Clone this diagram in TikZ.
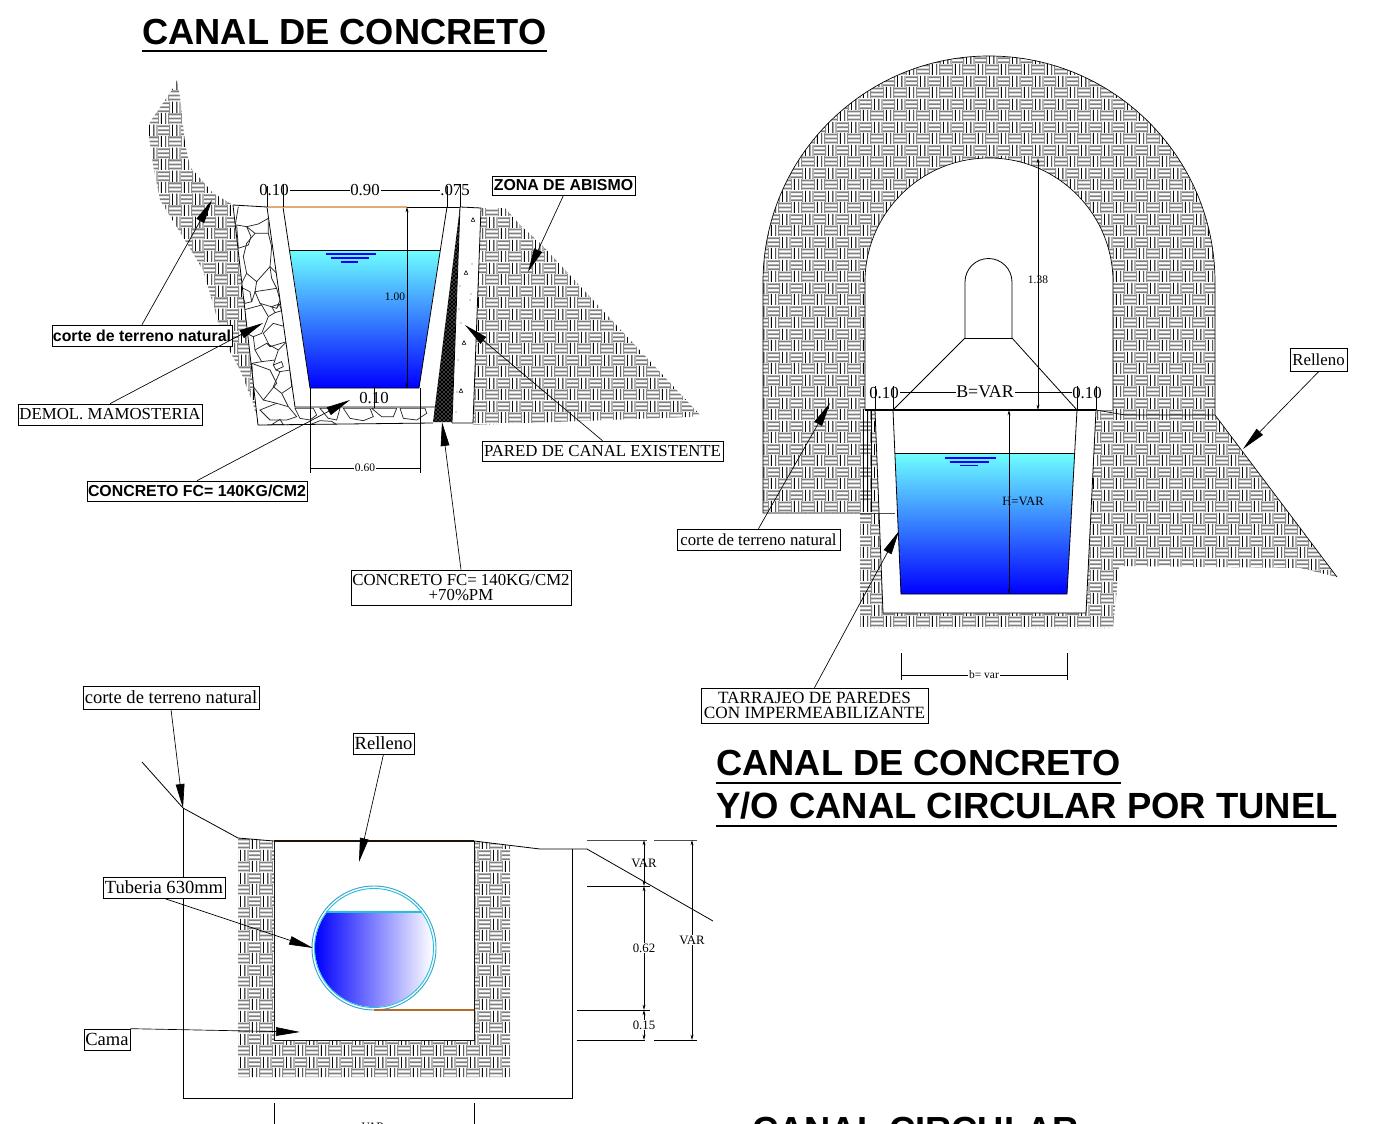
\documentclass[tikz,border=0pt]{standalone}
\usepackage{fontspec}
\setmainfont{Liberation Serif}
\newfontfamily\arialfont{Liberation Sans}
\usetikzlibrary{arrows.meta,patterns,calc}
\definecolor{watertop}{RGB}{110,255,255}
\definecolor{watermid}{RGB}{50,110,255}
\definecolor{pipeblue}{RGB}{50,165,205}
\definecolor{tanline}{RGB}{225,170,120}
\definecolor{brownline}{RGB}{185,105,40}
\pgfdeclarepatterninherentlycolored{weave}{\pgfpointorigin}{\pgfqpoint{16.95pt}{16.95pt}}{\pgfqpoint{16.95pt}{16.95pt}}{%
  \pgfsetlinewidth{0.7pt}\pgfsetstrokecolor{black}%
  \foreach \o in {2.6,5.9}{%
    \pgfpathmoveto{\pgfqpoint{\o pt}{0pt}}\pgfpathlineto{\pgfqpoint{\o pt}{8.475pt}}%
    \pgfpathmoveto{\pgfpointadd{\pgfqpoint{8.475pt}{8.475pt}}{\pgfqpoint{\o pt}{0pt}}}\pgfpathlineto{\pgfpointadd{\pgfqpoint{8.475pt}{8.475pt}}{\pgfqpoint{\o pt}{8.475pt}}}%
  }\pgfusepath{stroke}%
  \pgfsetstrokecolor{black!45}%
  \foreach \o in {0.35,8.1}{%
    \pgfpathmoveto{\pgfqpoint{\o pt}{0pt}}\pgfpathlineto{\pgfqpoint{\o pt}{8.475pt}}%
    \pgfpathmoveto{\pgfpointadd{\pgfqpoint{8.475pt}{8.475pt}}{\pgfqpoint{\o pt}{0pt}}}\pgfpathlineto{\pgfpointadd{\pgfqpoint{8.475pt}{8.475pt}}{\pgfqpoint{\o pt}{8.475pt}}}%
  }\pgfusepath{stroke}%
  \pgfsetlinewidth{1.4pt}\pgfsetstrokecolor{black!50}%
  \foreach \o in {1.2,4.24,7.3}{%
    \pgfpathmoveto{\pgfqpoint{8.475pt}{\o pt}}\pgfpathlineto{\pgfqpoint{16.95pt}{\o pt}}%
    \pgfpathmoveto{\pgfqpoint{0pt}{\dimexpr8.475pt+\o pt\relax}}\pgfpathlineto{\pgfqpoint{8.475pt}{\dimexpr8.475pt+\o pt\relax}}%
  }\pgfusepath{stroke}%
}
\tikzset{
  ln/.style={line width=0.6pt,black},
  thinln/.style={line width=0.5pt,black},
  hatchfill/.style={pattern=weave},
  dimarrow/.style={line width=0.5pt,{Stealth[length=4pt,width=2.2pt]}-{Stealth[length=4pt,width=2.2pt]}},
  leader/.style={line width=0.5pt,-{Triangle[length=18pt,width=6.5pt]}},
  lbl/.style={draw=black,line width=0.5pt,fill=white,inner sep=0pt,align=center,font=\fontsize{12.6}{11.5}\selectfont},
  lblk/.style={lbl,font=\fontsize{13.9}{12}\selectfont},
  lblb/.style={lbl,font=\arialfont\bfseries\fontsize{11.9}{12}\selectfont},
  dimtxt/.style={fill=white,inner sep=0.6pt,font=\fontsize{12.6}{13}\selectfont},
  smalltxt/.style={inner sep=0pt,font=\fontsize{8.6}{9}\selectfont},
  titletxt/.style={anchor=base west,inner sep=0pt,font=\arialfont\bfseries\fontsize{27.2}{30}\selectfont},
  wat/.style={top color=watertop,middle color=watermid,bottom color=blue},
  bw/.style={minimum width=#1*0.75pt},
  bh/.style={minimum height=#1*0.75pt},
}
\begin{document}
\begin{tikzpicture}[x=0.75pt,y=-0.75pt]
\useasboundingbox (0,0) rectangle (1400,1124);
\fill[white] (0,0) rectangle (1400,1124);

% ---------- titles
\node[titletxt] (t1) at (142,45) {CANAL DE CONCRETO};
\draw[line width=1.1pt] (142,51) -- (547,51);
\node[titletxt] (t2) at (716,775.5) {CANAL DE CONCRETO};
\draw[line width=1.1pt] (716,783) -- (1121,783);
\node[titletxt,font=\arialfont\bfseries\fontsize{27.33}{30}\selectfont] (t3) at (716,818.5) {Y/O CANAL CIRCULAR POR TUNEL};
\draw[line width=1.1pt] (716,826) -- (1337,826);
\node[titletxt] (t4) at (752,1142) {CANAL CIRCULAR};

% ---------- left section: terrain
\fill[hatchfill] (177,80) -- (172,90) -- (163,103) -- (150,122) -- (148,130) -- (153,165) -- (160,200) -- (183,237) -- (203,270) -- (212,300) -- (222,337) -- (240,370) -- (253,403) -- (258,425) -- (300,425) -- (233,205) -- (213,193) -- (190,167) -- (185,143) -- (180,97) -- cycle;
\fill[hatchfill] (481,208) -- (505,208) -- (520,225) -- (540,243) -- (700,415) -- (690,417) -- (473,425) -- cycle;

% masonry
\fill[white] (233,205) -- (267,207) -- (295,407) -- (435,407) -- (433,423) -- (258,425) -- cycle;
\begin{scope}[shift={(140,70)},x=0.25pt,y=-0.25pt]
\clip (280,405) -- (380,410) -- (465,1010) -- (885,1010) -- (880,1060) -- (355,1065) -- cycle;
\foreach \s in {
 {(290,465)--(320,470)--(333,500)--(325,525)--(295,535)},
 {(345,490)--(385,490)--(395,530)--(390,590)--(350,635)--(320,610)--(310,560)--(320,520)},
 {(300,650)--(330,665)--(335,695)--(315,700)},
 {(345,665)--(410,655)--(420,690)--(410,715)--(360,700)},
 {(310,720)--(365,705)--(385,740)--(365,790)--(340,800)--(320,790)},
 {(395,710)--(418,702)--(425,722)--(405,728)},
 {(370,790)--(400,760)--(435,770)--(440,815)--(390,830)},
 {(345,840)--(380,820)--(415,840)--(405,870)--(365,875)},
 {(400,885)--(425,875)--(430,890)--(408,900)},
 {(335,880)--(390,900)--(410,940)--(370,990)--(340,950)},
 {(420,905)--(450,900)--(455,950)--(425,970)--(400,950)},
 {(360,1020)--(410,1000)--(445,1010)--(470,1040)--(440,1050)--(390,1050)},
 {(465,1015)--(480,1045)--(510,1050)--(530,1035)--(520,1015)},
 {(540,1015)--(565,1045)--(590,1050)--(600,1015)},
 {(610,1015)--(630,1045)--(670,1052)--(700,1040)--(690,1015)},
 {(695,1015)--(725,1040)--(760,1040)--(770,1015)},
 {(780,1015)--(790,1045)--(830,1050)--(860,1030)--(855,1015)},
 {(395,1064)--(420,1048)--(430,1064)},
 {(510,1064)--(540,1052)--(575,1054)--(590,1064)}
}{\draw[line width=0.55pt,black!85] \s -- cycle;}
\foreach \s in {
 {(295,410)--(285,470)},{(320,470)--(345,490)},{(385,490)--(385,445)--(355,462)--(320,470)},
 {(390,590)--(410,610)},{(350,635)--(345,665)},{(320,610)--(300,650)},{(335,695)--(345,665)},
 {(410,655)--(395,625)--(390,590)},{(365,705)--(360,700)},{(385,740)--(405,728)},{(418,702)--(410,715)},
 {(340,800)--(345,840)},{(390,830)--(380,820)},{(365,875)--(335,880)},{(415,840)--(440,815)},
 {(405,870)--(400,885)},{(408,900)--(420,905)},{(340,950)--(335,880)},{(370,990)--(410,1000)},{(425,970)--(445,1010)}
}{\draw[line width=0.55pt,black!85] \s;}
\end{scope}
\draw[ln] (233,205) -- (258,425) -- (433,423);
\draw[ln] (233,205) -- (267,207);

% channel
\fill[white] (267,207) -- (295,407) -- (435,407) -- (460,207) -- cycle;
\shade[wat] (290,250) -- (310,388) -- (419,388) -- (440,250) -- cycle;
\draw[ln] (267,207) -- (295,407) -- (435,407);
\draw[ln] (283,207) -- (310,388) -- (419,388) -- (447,207);
\draw[ln] (290,250) -- (440,250);
\draw[line width=1.2pt,blue] (326,254) -- (376,254);
\draw[line width=1.2pt,blue] (331,258) -- (369,258);
\draw[line width=1.2pt,blue] (341,262) -- (358,262);
\draw[line width=0.9pt,tanline] (267,207) -- (407,207);
\draw[line width=0.7pt] (407,207) -- (460,207);

% wedge and wall
\fill[black] (460,207) -- (433,422) -- (452,422) -- cycle;
\fill[pattern=crosshatch dots,pattern color=white] (460,207) -- (433,422) -- (452,422) -- cycle;
\fill[white] (460,207) -- (481,208) -- (473,423) -- (452,423) -- cycle;
\draw[ln] (460,207) -- (481,208) -- (473,423) -- (452,423);
\draw[ln] (460,207) -- (452,423);
\foreach \p in {(473,220),(466,273),(464,343),(461,391)}{
  \draw[line width=0.4pt] \p ++(-1.8,1.3) -- ++(3.6,0) -- ++(-1.8,-3.6) -- cycle;}
\foreach \p in {(472,264),(471,294),(470,300),(460,286),(459,309),(461,323),(458,360),(457,392),(456,412)}{
  \fill[black!70] \p circle (0.6);}

% dimensions left
\draw[thinln] (283,190) -- (460,190);
\node[dimtxt] (d1) at (274,190) {0.10};
\node[dimtxt] (d2) at (365,190) {0.90};
\node[dimtxt] (d3) at (455,190) {.075};
\draw[thinln] (267,186) -- (267,207);
\draw[thinln] (283,184) -- (283,207);
\draw[thinln] (447,186) -- (447,207);
\draw[thinln] (460,184) -- (460,207);
\draw[dimarrow] (407,207) -- (407,388);
\node[smalltxt] (d4) at (395,297) {1.00};
\draw[thinln] (374,386) -- (374,408);
\node[dimtxt,fill=none] (d5) at (374,398) {0.10};
\draw[thinln] (310,388) -- (310,473);
\draw[thinln] (420,388) -- (420,473);
\draw[thinln] (310,468) -- (420,468);
\node[smalltxt,fill=white,inner sep=1pt] (d6) at (365,468) {0.60};

% leaders left
\coordinate (tipa) at (212,200);
\coordinate (tipb) at (263,323);
\coordinate (tipc) at (350,400);
\coordinate (tipd) at (528,272);
\coordinate (tipe) at (465,325);
\coordinate (tipf) at (442,422);
\node[lblb,bw=180,bh=21] (n1) at (142,335.5) {corte de terreno natural};
\node[lbl,bw=184,bh=21] (n2) at (110,414.5) {DEMOL. MAMOSTERIA};
\node[lblb,bw=220,bh=20] (n3) at (197,491) {CONCRETO FC= 140KG/CM2};
\node[lblb,bw=143,bh=19] (n4) at (563.5,185.5) {ZONA DE ABISMO};
\node[lbl,bw=241,bh=20] (n5) at (602.5,451) {PARED DE CANAL EXISTENTE};
\node[lbl,bw=220,bh=35] (n6) at (461,587.5) {CONCRETO FC= 140KG/CM2\\+70\%PM};
\draw[leader] (n1.north) -- (tipa);
\draw[leader] (n2.north) -- (tipb);
\draw[leader] (n3.north) -- (tipc);
\draw[leader] (n4.south) -- (tipd);
\draw[leader] (n5.north) -- (tipe);
\draw[leader] (n6.north) -- (tipf);

% ---------- right section
\fill[hatchfill] (763,513) -- (763,282) arc (180:360:226) -- (1215,415) -- (1337,577) -- (1300,568) -- (1119,566) -- (1113,628) -- (860,628) -- (860,513) -- cycle;
\fill[white] (865,410) -- (865,282) arc (180:360:124) -- (1113,410) -- cycle;
\fill[white] (875,410) -- (883,613) -- (1086,613) -- (1096,410) -- cycle;
\draw[thinln] (860,513) -- (763,513) -- (763,282) arc (180:360:226) -- (1215,415) -- (1337,577);
\draw[thinln] (865,410) -- (865,282) arc (180:360:124) -- (1113,410);
\draw[thinln] (1096,410) -- (1125,415) -- (1215,415);
\foreach \x in {863,867,871}{\draw[line width=0.4pt] (\x,411) -- (\x,512);}
\draw[ln,black!70] (860,513) -- (895,513);
\draw[ln] (875,410) -- (883,613) -- (1086,613) -- (1096,410);
\shade[wat] (895,453) -- (901,594) -- (1067,594) -- (1075,453) -- cycle;
\draw[ln] (893,410) -- (901,594) -- (1067,594) -- (1077,410);
\draw[ln] (895,453) -- (1075,453);
\draw[line width=0.9pt] (865,410) -- (1096,410);
\draw[line width=1.2pt,blue] (945,458) -- (996,458);
\draw[line width=1.2pt,blue] (950,462) -- (989,462);
\draw[line width=1.2pt,blue] (960,465.5) -- (978,465.5);
% vent
\draw[ln] (893,410) -- (965,338) -- (965,282) arc (180:360:23.5) -- (1012,338) -- (1077,410);
\draw[ln] (965,338) -- (1012,338);
% dims right
\draw[thinln] (893,392) -- (1077,392);
\node[dimtxt] (r1) at (884,393) {0.10};
\node[dimtxt,font=\fontsize{13.4}{14}\selectfont] (r2) at (985,392) {B=VAR};
\node[dimtxt] (r3) at (1087,393) {0.10};
\foreach \x in {875,893,1077,1096}{\draw[thinln] (\x,386) -- (\x,410);}
\draw[dimarrow] (1038,158) -- (1038,410);
\node[smalltxt] (r4) at (1038,280) {1.38};
\draw[dimarrow] (1009,410) -- (1009,594);
\node[smalltxt,font=\fontsize{9.5}{10}\selectfont] (r5) at (1023,501) {H=VAR};
\draw[thinln] (901,653) -- (901,680);
\draw[thinln] (1067,653) -- (1067,680);
\draw[thinln] (901,675) -- (1067,675);
\node[smalltxt,fill=white,inner sep=1pt] (r6) at (984,675) {b= var};
% leaders right
\coordinate (tipg) at (830,403);
\coordinate (tiph) at (899,531);
\coordinate (tipi) at (1243,449);
\node[lbl,bw=163,bh=21] (m1) at (758.5,539.5) {corte de terreno natural};
\node[lbl,font=\fontsize{12.9}{11.5}\selectfont,bw=227,bh=35] (m2) at (814.5,705.5) {TARRAJEO DE PAREDES\\CON IMPERMEABILIZANTE};
\node[lbl,bw=57,bh=23] (m3) at (1318.5,360) {Relleno};
\draw[leader] (m1.north) -- (tipg);
\draw[leader] (m2.north) -- (tiph);
\draw[leader] (m3.south) -- (tipi);

% ---------- bottom section
\fill[hatchfill] (238,838) -- (274,841) -- (474,841) -- (510,846) -- (510,1077) -- (238,1077) -- cycle;
\fill[white] (274,841) rectangle (474,1040);
\draw[line width=0.7pt,black!85!brown] (274,841) rectangle (474,1040);
\draw[line width=0.9pt,black!85!brown] (274,841) -- (474,841);
\draw[ln] (142,762) -- (183,808) -- (238,838) -- (274,841);
\draw[ln] (474,841) -- (540,849) -- (587,849) -- (713,921);
\draw[ln] (183,808) -- (183,1098) -- (572,1098) -- (572,849);
\begin{scope}
\clip (374,948) circle (59);
\shade[left color=blue,right color=white] (315,912) rectangle (433,1010);
\end{scope}
\draw[line width=0.7pt,pipeblue] (374,948) circle (62);
\draw[line width=0.7pt,pipeblue!70!cyan] (374,948) circle (59.5);
\draw[line width=0.8pt,pipeblue!70!cyan] (326,912) -- (422,912);
\draw[line width=0.8pt,brownline] (374,1010) -- (474,1010);
% dims
\draw[ln,black!70] (587,840) -- (647,840);
\draw[ln,black!70] (654,840) -- (697,840);
\draw[thinln] (587,886) -- (650,886);
\draw[thinln] (577,1010) -- (650,1010);
\draw[thinln] (577,1040) -- (645,1040);
\draw[thinln] (654,1040) -- (697,1040);
\draw[dimarrow] (644,840) -- (644,886);
\draw[dimarrow] (644,886) -- (644,1010);
\draw[dimarrow] (644,1010) -- (644,1040);
\draw[dimarrow] (692,840) -- (692,1040);
\node[dimtxt,fill=none,font=\fontsize{9.6}{10}\selectfont] (b1) at (644,863) {VAR};
\node[dimtxt,fill=white,font=\fontsize{9.6}{10}\selectfont] (b2) at (644,948) {0.62};
\node[dimtxt,fill=white,font=\fontsize{9.6}{10}\selectfont] (b3) at (644,1025) {0.15};
\node[dimtxt,fill=white,font=\fontsize{9.6}{10}\selectfont] (b4) at (692,940) {VAR};
\draw[thinln] (274,1103) -- (274,1124);
\draw[thinln] (474,1103) -- (474,1124);
\node[smalltxt] (b5) at (373,1127) {VAR};
% leaders bottom
\coordinate (tipj) at (183,808);
\coordinate (tipk) at (359,862);
\coordinate (tipl) at (313,948);
\coordinate (tipm) at (300,1032);
\node[lblk,bw=176,bh=23] (k1) at (171,697.5) {corte de terreno natural};
\node[lblk,bw=61,bh=21] (k2) at (383.5,743.5) {Relleno};
\node[lblk,bw=122,bh=21] (k3) at (164,887.5) {Tuberia 630mm};
\node[lblk,bw=46,bh=21] (k4) at (107,1039.5) {Cama};
\draw[leader] (k1.south) -- (tipj);
\draw[leader] (k2.south) -- (tipk);
\draw[leader] (k3.south) -- (tipl);
\draw[leader] (k4.north east) -- (tipm);
\end{tikzpicture}
\end{document}
